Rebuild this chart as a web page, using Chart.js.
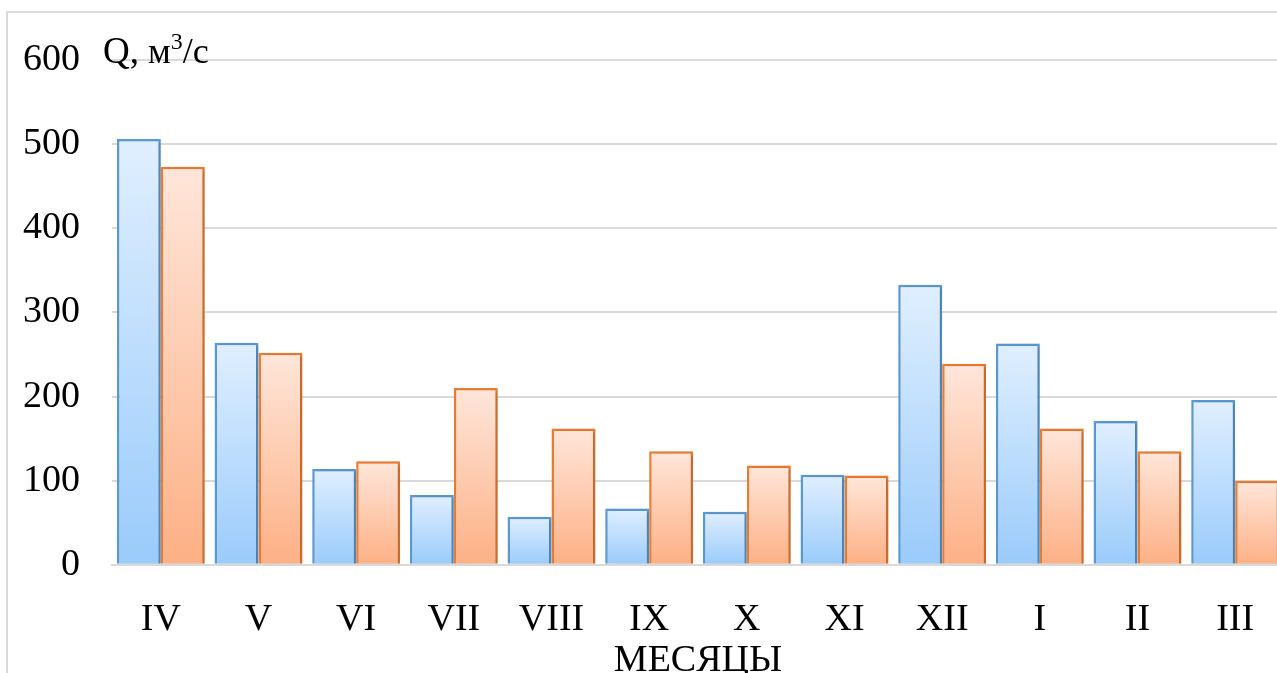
<!DOCTYPE html>
<html lang="ru">
<head>
<meta charset="UTF-8">
<title>Расходы воды по месяцам</title>
<script src="https://cdn.jsdelivr.net/npm/chart.js"></script>
<style>
  body {
    margin: 0;
    background: #fff;
    overflow: hidden;
    width: 1277px;
    height: 673px;
    position: relative;
    font-family: 'Liberation Serif', 'Times New Roman', serif;
  }
  #frame {
    position: absolute;
    left: 6px;
    top: 11px;
    width: 1320px;
    height: 720px;
    border: 2px solid #d9d9d9;
    pointer-events: none;
  }
  #chart {
    position: absolute;
    left: 0;
    top: 0;
  }
  #unit {
    position: absolute;
    left: 103px;
    top: 29px;
    font-size: 36px;
    color: #000;
    white-space: nowrap;
  }
  #unit .q { font-size: 37px; }
  #unit sup { font-size: 24px; position: relative; top: -1px; }
</style>
</head>
<body>
<div id="frame"></div>
<canvas id="chart" width="1300" height="680"></canvas>
<div id="unit"><span class="q">Q,</span> м<sup>3</sup>/с</div>

<script>
// месяцы гидрологического года
const months = ['IV', 'V', 'VI', 'VII', 'VIII', 'IX', 'X', 'XI', 'XII', 'I', 'II', 'III'];
// расходы, м3/с
const seriesBlue = [506, 264, 114, 83, 57, 67, 63, 107, 333, 263, 171, 196];
const seriesOrange = [473, 252, 123, 210, 162, 135, 118, 106, 239, 162, 135, 100];
const yTicks = [0, 100, 200, 300, 400, 500, 600];

// вертикальный градиент внутри каждого столбика
function barGradient(top, bottom) {
  return function (context) {
    const chart = context.chart;
    if (!chart.chartArea || context.raw === undefined) return bottom;
    const y = chart.scales.y;
    const y1 = y.getPixelForValue(context.raw);
    const y0 = y.getPixelForValue(0);
    const g = chart.ctx.createLinearGradient(0, y1, 0, y0);
    g.addColorStop(0, top);
    g.addColorStop(1, bottom);
    return g;
  };
}

const barShadow = {
  id: 'barShadow',
  beforeDatasetsDraw(chart) {
    const c = chart.ctx;
    c.save();
    c.shadowColor = 'rgba(0,0,0,0.22)';
    c.shadowBlur = 4;
    c.shadowOffsetX = 2;
    c.shadowOffsetY = 1;
  },
  afterDatasetsDraw(chart) {
    chart.ctx.restore();
  }
};

const font = { family: "'Liberation Serif', 'Times New Roman', serif", size: 38 };

new Chart(document.getElementById('chart'), {
  type: 'bar',
  data: {
    labels: months,
    datasets: [
      {
        label: 'ряд 1',
        data: seriesBlue,
        backgroundColor: barGradient('#e0efff', '#9acbfb'),
        borderColor: '#5b9bd5',
        borderWidth: 2.5,
        borderSkipped: 'bottom'
      },
      {
        label: 'ряд 2',
        data: seriesOrange,
        backgroundColor: barGradient('#ffe6da', '#fdb085'),
        borderColor: '#ed7d31',
        borderWidth: 2.5,
        borderSkipped: 'bottom'
      }
    ]
  },
  options: {
    responsive: false,
    animation: false,
    layout: { padding: { left: 23, top: 60, right: 16, bottom: 0 } },
    datasets: {
      bar: { categoryPercentage: 0.9, barPercentage: 1.0 }
    },
    plugins: {
      legend: { display: false },
      tooltip: { enabled: false }
    },
    scales: {
      x: {
        grid: { display: false },
        border: { display: true, color: '#d9d9d9', width: 2 },
        ticks: { color: '#000', font: font, padding: 24 },
        title: {
          display: true,
          text: 'МЕСЯЦЫ',
          color: '#000',
          font: font,
          padding: { top: -28, bottom: -4 }
        }
      },
      y: {
        min: 0,
        max: 600,
        afterBuildTicks(axis) {
          axis.ticks = yTicks.map(v => ({ value: v }));
        },
        afterFit(axis) {
          axis.width = 89;
        },
        grid: { color: '#d9d9d9', lineWidth: 2, drawTicks: false },
        border: { display: false },
        ticks: { color: '#000', font: font, padding: 32 }
      }
    }
  },
  plugins: [barShadow]
});
</script>
</body>
</html>
